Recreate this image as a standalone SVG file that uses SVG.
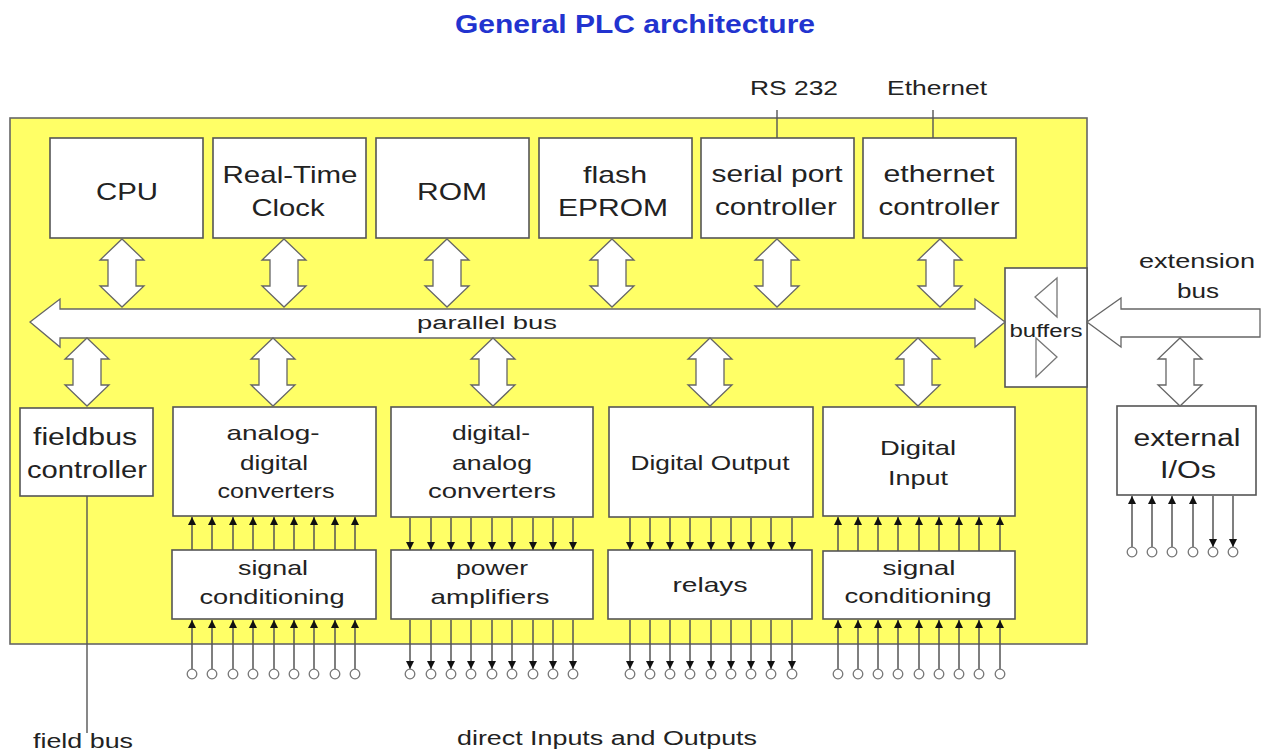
<svg xmlns="http://www.w3.org/2000/svg" width="1263" height="753" viewBox="0 0 1263 753">
<style>
text{font-family:"Liberation Sans",Arial,sans-serif;fill:#222;text-anchor:middle}
.t24{font-size:24px}.t21{font-size:21px}.t18{font-size:18px}.t23{font-size:23px}.t20{font-size:20px}
.box{fill:#fff;stroke:#555;stroke-width:1.6}
.arr{fill:#fff;stroke:#666;stroke-width:1.3;stroke-linejoin:miter}
.pin{stroke:#555;stroke-width:1.5;fill:none}
.up{marker-end:url(#ah)}
.dn{marker-end:url(#ah)}
.term{fill:#fff;stroke:#777;stroke-width:1.3}
.wire{stroke:#555;stroke-width:1.4;fill:none}
</style>
<defs>
<marker id="ah" viewBox="0 0 8 8" refX="8" refY="4" markerWidth="8" markerHeight="8" markerUnits="userSpaceOnUse" orient="auto"><path d="M0,0 L8,4 L0,8 Z" fill="#111"/></marker>
<path id="vdbl" d="M0,0 L22,21 L14,21 L14,47 L22,47 L0,68 L-22,47 L-14,47 L-14,21 L-22,21 Z"/>
</defs>
<rect width="1263" height="753" fill="#fff"/>
<text x="635" y="33" textLength="360" lengthAdjust="spacingAndGlyphs" style="font-size:26px;font-weight:bold;fill:#2233cf">General PLC architecture</text>

<g id="plc">
<rect x="10" y="118" width="1077" height="526" fill="#ffff66" stroke="#666" stroke-width="1.6"/>
</g>

<g id="cpu"><rect class="box" x="50" y="138" width="153" height="100"/><text class="t24" x="127" y="200" textLength="62" lengthAdjust="spacingAndGlyphs">CPU</text></g>
<g id="rtc"><rect class="box" x="213" y="138" width="153" height="100"/><text class="t24" x="290" y="183" textLength="135" lengthAdjust="spacingAndGlyphs">Real-Time</text><text class="t24" x="288" y="216" textLength="73" lengthAdjust="spacingAndGlyphs">Clock</text></g>
<g id="rom"><rect class="box" x="376" y="138" width="153" height="100"/><text class="t24" x="452" y="200" textLength="70" lengthAdjust="spacingAndGlyphs">ROM</text></g>
<g id="flash"><rect class="box" x="539" y="138" width="153" height="100"/><text class="t24" x="615" y="183" textLength="64" lengthAdjust="spacingAndGlyphs">flash</text><text class="t24" x="613" y="216" textLength="110" lengthAdjust="spacingAndGlyphs">EPROM</text></g>
<g id="serial"><rect class="box" x="701" y="138" width="153" height="100"/><text class="t24" x="777" y="182" textLength="131" lengthAdjust="spacingAndGlyphs">serial port</text><text class="t24" x="776" y="215" textLength="122" lengthAdjust="spacingAndGlyphs">controller</text></g>
<g id="ethernet"><rect class="box" x="863" y="138" width="153" height="100"/><text class="t24" x="939" y="182" textLength="111" lengthAdjust="spacingAndGlyphs">ethernet</text><text class="t24" x="939" y="215" textLength="121" lengthAdjust="spacingAndGlyphs">controller</text></g>

<g id="buffers"><rect class="box" x="1005" y="268" width="82" height="119"/>
<path d="M1057,278 L1035,297 L1057,317 Z" fill="none" stroke="#777" stroke-width="1.3"/>
<path d="M1036,338 L1057,357 L1036,377 Z" fill="none" stroke="#777" stroke-width="1.3"/>
<text class="t18" x="1046" y="337" textLength="73" lengthAdjust="spacingAndGlyphs">buffers</text></g>

<g id="fieldbus"><rect class="box" x="20" y="408" width="133" height="88"/><text class="t23" x="85" y="445" textLength="104" lengthAdjust="spacingAndGlyphs">fieldbus</text><text class="t23" x="87" y="478" textLength="120" lengthAdjust="spacingAndGlyphs">controller</text></g>
<g id="adc"><rect class="box" x="173" y="407" width="203" height="109"/><text class="t21" x="273" y="440" textLength="93" lengthAdjust="spacingAndGlyphs">analog-</text><text class="t21" x="274" y="470" textLength="68" lengthAdjust="spacingAndGlyphs">digital</text><text class="t21" x="276" y="498" textLength="117" lengthAdjust="spacingAndGlyphs">converters</text></g>
<g id="dac"><rect class="box" x="391" y="407" width="202" height="110"/><text class="t21" x="491" y="440" textLength="78" lengthAdjust="spacingAndGlyphs">digital-</text><text class="t21" x="492" y="470" textLength="80" lengthAdjust="spacingAndGlyphs">analog</text><text class="t21" x="492" y="498" textLength="128" lengthAdjust="spacingAndGlyphs">converters</text></g>
<g id="dout"><rect class="box" x="609" y="407" width="204" height="110"/><text class="t21" x="710" y="470" textLength="159" lengthAdjust="spacingAndGlyphs">Digital Output</text></g>
<g id="din"><rect class="box" x="823" y="407" width="192" height="109"/><text class="t21" x="918" y="455" textLength="76" lengthAdjust="spacingAndGlyphs">Digital</text><text class="t21" x="918" y="485" textLength="60" lengthAdjust="spacingAndGlyphs">Input</text></g>
<g id="sigcond1"><rect class="box" x="172" y="550" width="204" height="69"/><text class="t21" x="273" y="575" textLength="70" lengthAdjust="spacingAndGlyphs">signal</text><text class="t21" x="272" y="604" textLength="145" lengthAdjust="spacingAndGlyphs">conditioning</text></g>
<g id="poweramp"><rect class="box" x="391" y="550" width="202" height="69"/><text class="t21" x="492" y="575" textLength="72" lengthAdjust="spacingAndGlyphs">power</text><text class="t21" x="490" y="604" textLength="119" lengthAdjust="spacingAndGlyphs">amplifiers</text></g>
<g id="relays"><rect class="box" x="608" y="550" width="204" height="69"/><text class="t21" x="710" y="592" textLength="75" lengthAdjust="spacingAndGlyphs">relays</text></g>
<g id="sigcond2"><rect class="box" x="823" y="551" width="192" height="68"/><text class="t21" x="919" y="575" textLength="73" lengthAdjust="spacingAndGlyphs">signal</text><text class="t21" x="918" y="603" textLength="147" lengthAdjust="spacingAndGlyphs">conditioning</text></g>
<g id="extio"><rect class="box" x="1117" y="406" width="139" height="89"/><text class="t23" x="1187" y="446" textLength="107" lengthAdjust="spacingAndGlyphs">external</text><text class="t23" x="1188" y="478" textLength="56" lengthAdjust="spacingAndGlyphs">I/Os</text></g>

<g id="labels">
<text class="t21" x="794" y="95" textLength="88" lengthAdjust="spacingAndGlyphs">RS 232</text>
<text class="t21" x="937" y="95" textLength="100" lengthAdjust="spacingAndGlyphs">Ethernet</text>
<text class="t20" x="1197" y="268" textLength="116" lengthAdjust="spacingAndGlyphs">extension</text>
<text class="t20" x="1198" y="298" textLength="42" lengthAdjust="spacingAndGlyphs">bus</text>
<text class="t20" x="607" y="745" textLength="300" lengthAdjust="spacingAndGlyphs">direct Inputs and Outputs</text>
<text class="t20" x="83" y="748" textLength="100" lengthAdjust="spacingAndGlyphs">field bus</text>
</g>

<g id="connectors">
<path class="arr" d="M30,322 L60,299 L60,309 L975,309 L975,299 L1005,322 L975,347 L975,338 L60,338 L60,347 Z"/>
<text class="t18" x="487" y="329" textLength="140" lengthAdjust="spacingAndGlyphs">parallel bus</text>
<path class="arr" d="M1087,322 L1121,298 L1121,309 L1260,309 L1260,337 L1121,337 L1121,347 Z"/>
<use href="#vdbl" class="arr" x="122" y="239"/>
<use href="#vdbl" class="arr" x="284" y="239"/>
<use href="#vdbl" class="arr" x="447" y="239"/>
<use href="#vdbl" class="arr" x="612" y="239"/>
<use href="#vdbl" class="arr" x="777" y="239"/>
<use href="#vdbl" class="arr" x="940" y="239"/>
<use href="#vdbl" class="arr" x="87" y="338"/>
<use href="#vdbl" class="arr" x="273" y="338"/>
<use href="#vdbl" class="arr" x="493" y="338"/>
<use href="#vdbl" class="arr" x="710" y="338"/>
<use href="#vdbl" class="arr" x="918" y="338"/>
<use href="#vdbl" class="arr" x="1180" y="338"/>
<line class="wire" x1="777" y1="110" x2="777" y2="138"/>
<line class="wire" x1="933" y1="110" x2="933" y2="138"/>
<line class="wire" x1="87" y1="496" x2="87" y2="733"/>

<!-- ADC pins -->
<line class="pin up" x1="192" y1="550" x2="192" y2="517"/><line class="pin up" x1="212" y1="550" x2="212" y2="517"/><line class="pin up" x1="233" y1="550" x2="233" y2="517"/><line class="pin up" x1="253" y1="550" x2="253" y2="517"/><line class="pin up" x1="274" y1="550" x2="274" y2="517"/><line class="pin up" x1="294" y1="550" x2="294" y2="517"/><line class="pin up" x1="314" y1="550" x2="314" y2="517"/><line class="pin up" x1="335" y1="550" x2="335" y2="517"/><line class="pin up" x1="355" y1="550" x2="355" y2="517"/>
<line class="pin up" x1="192" y1="669" x2="192" y2="620"/><line class="pin up" x1="212" y1="669" x2="212" y2="620"/><line class="pin up" x1="233" y1="669" x2="233" y2="620"/><line class="pin up" x1="253" y1="669" x2="253" y2="620"/><line class="pin up" x1="274" y1="669" x2="274" y2="620"/><line class="pin up" x1="294" y1="669" x2="294" y2="620"/><line class="pin up" x1="314" y1="669" x2="314" y2="620"/><line class="pin up" x1="335" y1="669" x2="335" y2="620"/><line class="pin up" x1="355" y1="669" x2="355" y2="620"/>
<!-- DAC pins -->
<line class="pin dn" x1="410" y1="518" x2="410" y2="550"/><line class="pin dn" x1="431" y1="518" x2="431" y2="550"/><line class="pin dn" x1="451" y1="518" x2="451" y2="550"/><line class="pin dn" x1="471" y1="518" x2="471" y2="550"/><line class="pin dn" x1="492" y1="518" x2="492" y2="550"/><line class="pin dn" x1="512" y1="518" x2="512" y2="550"/><line class="pin dn" x1="533" y1="518" x2="533" y2="550"/><line class="pin dn" x1="553" y1="518" x2="553" y2="550"/><line class="pin dn" x1="573" y1="518" x2="573" y2="550"/>
<line class="pin dn" x1="410" y1="620" x2="410" y2="669"/><line class="pin dn" x1="431" y1="620" x2="431" y2="669"/><line class="pin dn" x1="451" y1="620" x2="451" y2="669"/><line class="pin dn" x1="471" y1="620" x2="471" y2="669"/><line class="pin dn" x1="492" y1="620" x2="492" y2="669"/><line class="pin dn" x1="512" y1="620" x2="512" y2="669"/><line class="pin dn" x1="533" y1="620" x2="533" y2="669"/><line class="pin dn" x1="553" y1="620" x2="553" y2="669"/><line class="pin dn" x1="573" y1="620" x2="573" y2="669"/>
<!-- Relay pins -->
<line class="pin dn" x1="630" y1="518" x2="630" y2="550"/><line class="pin dn" x1="650" y1="518" x2="650" y2="550"/><line class="pin dn" x1="670" y1="518" x2="670" y2="550"/><line class="pin dn" x1="690" y1="518" x2="690" y2="550"/><line class="pin dn" x1="711" y1="518" x2="711" y2="550"/><line class="pin dn" x1="731" y1="518" x2="731" y2="550"/><line class="pin dn" x1="751" y1="518" x2="751" y2="550"/><line class="pin dn" x1="771" y1="518" x2="771" y2="550"/><line class="pin dn" x1="792" y1="518" x2="792" y2="550"/>
<line class="pin dn" x1="630" y1="620" x2="630" y2="669"/><line class="pin dn" x1="650" y1="620" x2="650" y2="669"/><line class="pin dn" x1="670" y1="620" x2="670" y2="669"/><line class="pin dn" x1="690" y1="620" x2="690" y2="669"/><line class="pin dn" x1="711" y1="620" x2="711" y2="669"/><line class="pin dn" x1="731" y1="620" x2="731" y2="669"/><line class="pin dn" x1="751" y1="620" x2="751" y2="669"/><line class="pin dn" x1="771" y1="620" x2="771" y2="669"/><line class="pin dn" x1="792" y1="620" x2="792" y2="669"/>
<!-- DI pins -->
<line class="pin up" x1="838" y1="551" x2="838" y2="517"/><line class="pin up" x1="858" y1="551" x2="858" y2="517"/><line class="pin up" x1="878" y1="551" x2="878" y2="517"/><line class="pin up" x1="898" y1="551" x2="898" y2="517"/><line class="pin up" x1="919" y1="551" x2="919" y2="517"/><line class="pin up" x1="939" y1="551" x2="939" y2="517"/><line class="pin up" x1="959" y1="551" x2="959" y2="517"/><line class="pin up" x1="979" y1="551" x2="979" y2="517"/><line class="pin up" x1="1000" y1="551" x2="1000" y2="517"/>
<line class="pin up" x1="838" y1="669" x2="838" y2="620"/><line class="pin up" x1="858" y1="669" x2="858" y2="620"/><line class="pin up" x1="878" y1="669" x2="878" y2="620"/><line class="pin up" x1="898" y1="669" x2="898" y2="620"/><line class="pin up" x1="919" y1="669" x2="919" y2="620"/><line class="pin up" x1="939" y1="669" x2="939" y2="620"/><line class="pin up" x1="959" y1="669" x2="959" y2="620"/><line class="pin up" x1="979" y1="669" x2="979" y2="620"/><line class="pin up" x1="1000" y1="669" x2="1000" y2="620"/>
<!-- External pins -->
<line class="pin up" x1="1132" y1="547" x2="1132" y2="496"/><line class="pin up" x1="1152" y1="547" x2="1152" y2="496"/><line class="pin up" x1="1172" y1="547" x2="1172" y2="496"/><line class="pin up" x1="1193" y1="547" x2="1193" y2="496"/>
<line class="pin dn" x1="1213" y1="496" x2="1213" y2="547"/><line class="pin dn" x1="1233" y1="496" x2="1233" y2="547"/>
</g>

<g id="terminals">
<circle class="term" cx="192" cy="674" r="4.8"/><circle class="term" cx="212" cy="674" r="4.8"/><circle class="term" cx="233" cy="674" r="4.8"/><circle class="term" cx="253" cy="674" r="4.8"/><circle class="term" cx="274" cy="674" r="4.8"/><circle class="term" cx="294" cy="674" r="4.8"/><circle class="term" cx="314" cy="674" r="4.8"/><circle class="term" cx="335" cy="674" r="4.8"/><circle class="term" cx="355" cy="674" r="4.8"/>
<circle class="term" cx="410" cy="674" r="4.8"/><circle class="term" cx="431" cy="674" r="4.8"/><circle class="term" cx="451" cy="674" r="4.8"/><circle class="term" cx="471" cy="674" r="4.8"/><circle class="term" cx="492" cy="674" r="4.8"/><circle class="term" cx="512" cy="674" r="4.8"/><circle class="term" cx="533" cy="674" r="4.8"/><circle class="term" cx="553" cy="674" r="4.8"/><circle class="term" cx="573" cy="674" r="4.8"/>
<circle class="term" cx="630" cy="674" r="4.8"/><circle class="term" cx="650" cy="674" r="4.8"/><circle class="term" cx="670" cy="674" r="4.8"/><circle class="term" cx="690" cy="674" r="4.8"/><circle class="term" cx="711" cy="674" r="4.8"/><circle class="term" cx="731" cy="674" r="4.8"/><circle class="term" cx="751" cy="674" r="4.8"/><circle class="term" cx="771" cy="674" r="4.8"/><circle class="term" cx="792" cy="674" r="4.8"/>
<circle class="term" cx="838" cy="674" r="4.8"/><circle class="term" cx="858" cy="674" r="4.8"/><circle class="term" cx="878" cy="674" r="4.8"/><circle class="term" cx="898" cy="674" r="4.8"/><circle class="term" cx="919" cy="674" r="4.8"/><circle class="term" cx="939" cy="674" r="4.8"/><circle class="term" cx="959" cy="674" r="4.8"/><circle class="term" cx="979" cy="674" r="4.8"/><circle class="term" cx="1000" cy="674" r="4.8"/>
<circle class="term" cx="1132" cy="552" r="4.8"/><circle class="term" cx="1152" cy="552" r="4.8"/><circle class="term" cx="1172" cy="552" r="4.8"/><circle class="term" cx="1193" cy="552" r="4.8"/><circle class="term" cx="1213" cy="552" r="4.8"/><circle class="term" cx="1233" cy="552" r="4.8"/>
</g>
</svg>
